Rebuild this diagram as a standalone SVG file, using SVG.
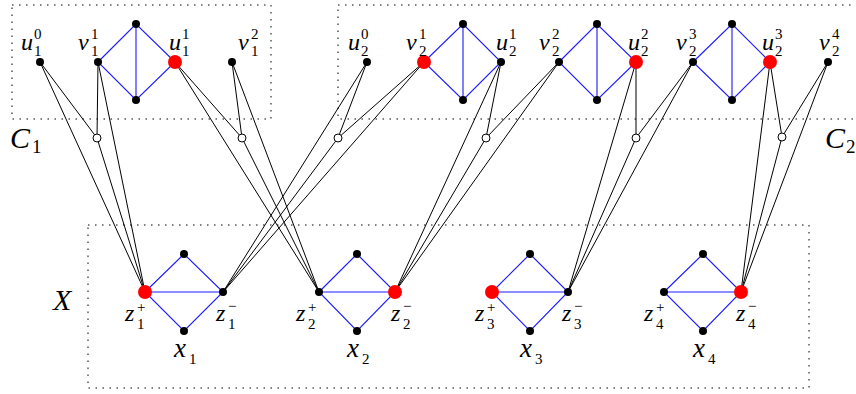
<svg xmlns="http://www.w3.org/2000/svg" width="856" height="394" viewBox="0 0 856 394">
<style>
.box{fill:none;stroke:#000;stroke-width:1;stroke-dasharray:1.5 5.5}
.e{stroke:#000;stroke-width:1;fill:none}
.b{stroke:#1a1aff;stroke-width:1.1;fill:none}
.n{fill:#000}
.r{fill:#ff0000}
.h{fill:#fff;stroke:#000;stroke-width:1}
.m{font-family:"Liberation Serif",serif;font-style:italic;font-size:24px;fill:#000}
.s{font-family:"Liberation Serif",serif;font-size:15px;fill:#000}
.x{font-family:"Liberation Serif",serif;font-style:italic;font-size:27px;fill:#000}
.L{font-family:"Liberation Serif",serif;font-style:italic;font-size:30px;fill:#000}
.Ls{font-family:"Liberation Serif",serif;font-size:19px;fill:#000}
</style>
<rect width="856" height="394" fill="#fff"/>
<g id="boxes">
<rect class="box" x="12" y="5" width="259" height="114"/>
<rect class="box" x="338" y="5" width="540" height="114"/>
<rect class="box" x="88" y="225" width="721" height="163"/>
</g>
<g id="connectors">
<line class="e" x1="40" y1="62" x2="97" y2="138"/>
<line class="e" x1="98" y1="62" x2="97" y2="138"/>
<line class="e" x1="97" y1="138" x2="145" y2="292"/>
<line class="e" x1="40" y1="62" x2="145" y2="292"/>
<line class="e" x1="98" y1="62" x2="145" y2="292"/>
<line class="e" x1="175" y1="62" x2="242" y2="138"/>
<line class="e" x1="232" y1="62" x2="242" y2="138"/>
<line class="e" x1="242" y1="138" x2="319" y2="292"/>
<line class="e" x1="175" y1="62" x2="319" y2="292"/>
<line class="e" x1="232" y1="62" x2="319" y2="292"/>
<line class="e" x1="367" y1="62" x2="338" y2="138"/>
<line class="e" x1="424" y1="62" x2="338" y2="138"/>
<line class="e" x1="338" y1="138" x2="223" y2="292"/>
<line class="e" x1="367" y1="62" x2="223" y2="292"/>
<line class="e" x1="424" y1="62" x2="223" y2="292"/>
<line class="e" x1="501" y1="62" x2="486" y2="138"/>
<line class="e" x1="559" y1="62" x2="486" y2="138"/>
<line class="e" x1="486" y1="138" x2="395" y2="292"/>
<line class="e" x1="501" y1="62" x2="395" y2="292"/>
<line class="e" x1="559" y1="62" x2="395" y2="292"/>
<line class="e" x1="636" y1="62" x2="636" y2="138"/>
<line class="e" x1="693" y1="62" x2="636" y2="138"/>
<line class="e" x1="636" y1="138" x2="568" y2="292"/>
<line class="e" x1="636" y1="62" x2="568" y2="292"/>
<line class="e" x1="693" y1="62" x2="568" y2="292"/>
<line class="e" x1="770" y1="62" x2="782" y2="137"/>
<line class="e" x1="828" y1="62" x2="782" y2="137"/>
<line class="e" x1="782" y1="137" x2="741" y2="292"/>
<line class="e" x1="770" y1="62" x2="741" y2="292"/>
<line class="e" x1="828" y1="62" x2="741" y2="292"/>
</g>
<g id="gadget-edges">
<path class="b" d="M98 62L136 24L175 62L136 100ZM136 24V100"/>
<path class="b" d="M424 62L463 24L501 62L463 100ZM463 24V100"/>
<path class="b" d="M559 62L597 24L636 62L597 100ZM597 24V100"/>
<path class="b" d="M693 62L732 24L770 62L732 100ZM732 24V100"/>
<path class="b" d="M145 292L184 254L223 292L184 331ZM145 292H223"/>
<path class="b" d="M319 292L357 254L395 292L357 331ZM319 292H395"/>
<path class="b" d="M492 292L530 254L568 292L530 331ZM492 292H568"/>
<path class="b" d="M664 292L703 254L741 292L703 331ZM664 292H741"/>
</g>
<g id="C1">
<g id="u1_0"><circle class="n" cx="40" cy="62" r="4"/><text class="m" x="21" y="50">u</text><text class="s" x="34" y="39">0</text><text class="s" x="34" y="56">1</text></g>
<g id="v1_1"><circle class="n" cx="98" cy="62" r="4"/><text class="m" x="78" y="50">v</text><text class="s" x="91" y="39">1</text><text class="s" x="91" y="56">1</text></g>
<g id="c1_top"><circle class="n" cx="136" cy="24" r="4"/></g>
<g id="c1_bot"><circle class="n" cx="136" cy="100" r="4"/></g>
<g id="u1_1"><circle class="r" cx="175" cy="62" r="7"/><text class="m" x="169" y="50">u</text><text class="s" x="182" y="39">1</text><text class="s" x="182" y="56">1</text></g>
<g id="v1_2"><circle class="n" cx="232" cy="62" r="4"/><text class="m" x="238" y="50">v</text><text class="s" x="251" y="39">2</text><text class="s" x="251" y="56">1</text></g>
<g id="h1"><circle class="h" cx="97" cy="138" r="4"/></g>
<g id="h2"><circle class="h" cx="242" cy="138" r="4"/></g>
<g id="C1label"><text class="L" x="10" y="148">C</text><text class="Ls" x="32" y="153">1</text></g>
</g>
<g id="C2">
<g id="u2_0"><circle class="n" cx="367" cy="62" r="4"/><text class="m" x="348" y="50">u</text><text class="s" x="361" y="39">0</text><text class="s" x="361" y="56">2</text></g>
<g id="v2_1"><circle class="r" cx="424" cy="62" r="7"/><text class="m" x="406" y="50">v</text><text class="s" x="419" y="39">1</text><text class="s" x="419" y="56">2</text></g>
<g id="c2a_top"><circle class="n" cx="463" cy="24" r="4"/></g>
<g id="c2a_bot"><circle class="n" cx="463" cy="100" r="4"/></g>
<g id="u2_1"><circle class="n" cx="501" cy="62" r="4"/><text class="m" x="496" y="50">u</text><text class="s" x="509" y="39">1</text><text class="s" x="509" y="56">2</text></g>
<g id="v2_2"><circle class="n" cx="559" cy="62" r="4"/><text class="m" x="539" y="50">v</text><text class="s" x="552" y="39">2</text><text class="s" x="552" y="56">2</text></g>
<g id="c2b_top"><circle class="n" cx="597" cy="24" r="4"/></g>
<g id="c2b_bot"><circle class="n" cx="597" cy="100" r="4"/></g>
<g id="u2_2"><circle class="r" cx="636" cy="62" r="7"/><text class="m" x="628" y="50">u</text><text class="s" x="641" y="39">2</text><text class="s" x="641" y="56">2</text></g>
<g id="v2_3"><circle class="n" cx="693" cy="62" r="4"/><text class="m" x="676" y="50">v</text><text class="s" x="689" y="39">3</text><text class="s" x="689" y="56">2</text></g>
<g id="c2c_top"><circle class="n" cx="732" cy="24" r="4"/></g>
<g id="c2c_bot"><circle class="n" cx="732" cy="100" r="4"/></g>
<g id="u2_3"><circle class="r" cx="770" cy="62" r="7"/><text class="m" x="762" y="50">u</text><text class="s" x="775" y="39">3</text><text class="s" x="775" y="56">2</text></g>
<g id="v2_4"><circle class="n" cx="828" cy="62" r="4"/><text class="m" x="819" y="50">v</text><text class="s" x="832" y="39">4</text><text class="s" x="832" y="56">2</text></g>
<g id="h3"><circle class="h" cx="338" cy="138" r="4"/></g>
<g id="h4"><circle class="h" cx="486" cy="138" r="4"/></g>
<g id="h5"><circle class="h" cx="636" cy="138" r="4"/></g>
<g id="h6"><circle class="h" cx="782" cy="137" r="4"/></g>
<g id="C2label"><text class="L" x="825" y="148">C</text><text class="Ls" x="846" y="153">2</text></g>
</g>
<g id="X">
<g id="Xlabel"><text class="L" x="53" y="310">X</text></g>
<g id="x1">
<circle class="r" cx="145" cy="292" r="7"/><circle class="n" cx="184" cy="254" r="4"/><circle class="n" cx="184" cy="331" r="4"/><circle class="n" cx="223" cy="292" r="4"/>
<text class="m" x="125" y="321">z</text><text class="s" x="137" y="312">+</text><text class="s" x="137" y="329">1</text>
<text class="m" x="216" y="321">z</text><text class="s" x="228" y="311">−</text><text class="s" x="228" y="329">1</text>
<text class="x" x="174" y="357">x</text><text class="s" x="189" y="364">1</text>
</g>
<g id="x2">
<circle class="n" cx="319" cy="292" r="4"/><circle class="n" cx="357" cy="254" r="4"/><circle class="n" cx="357" cy="331" r="4"/><circle class="r" cx="395" cy="292" r="7"/>
<text class="m" x="296" y="321">z</text><text class="s" x="308" y="312">+</text><text class="s" x="308" y="329">2</text>
<text class="m" x="391" y="321">z</text><text class="s" x="403" y="311">−</text><text class="s" x="403" y="329">2</text>
<text class="x" x="347" y="357">x</text><text class="s" x="362" y="364">2</text>
</g>
<g id="x3">
<circle class="r" cx="492" cy="292" r="7"/><circle class="n" cx="530" cy="254" r="4"/><circle class="n" cx="530" cy="331" r="4"/><circle class="n" cx="568" cy="292" r="4"/>
<text class="m" x="475" y="321">z</text><text class="s" x="487" y="312">+</text><text class="s" x="487" y="329">3</text>
<text class="m" x="562" y="321">z</text><text class="s" x="574" y="311">−</text><text class="s" x="574" y="329">3</text>
<text class="x" x="520" y="357">x</text><text class="s" x="535" y="364">3</text>
</g>
<g id="x4">
<circle class="n" cx="664" cy="292" r="4"/><circle class="n" cx="703" cy="254" r="4"/><circle class="n" cx="703" cy="331" r="4"/><circle class="r" cx="741" cy="292" r="7"/>
<text class="m" x="644" y="321">z</text><text class="s" x="656" y="312">+</text><text class="s" x="656" y="329">4</text>
<text class="m" x="736" y="321">z</text><text class="s" x="748" y="311">−</text><text class="s" x="748" y="329">4</text>
<text class="x" x="693" y="357">x</text><text class="s" x="708" y="364">4</text>
</g>
</g>
</svg>
